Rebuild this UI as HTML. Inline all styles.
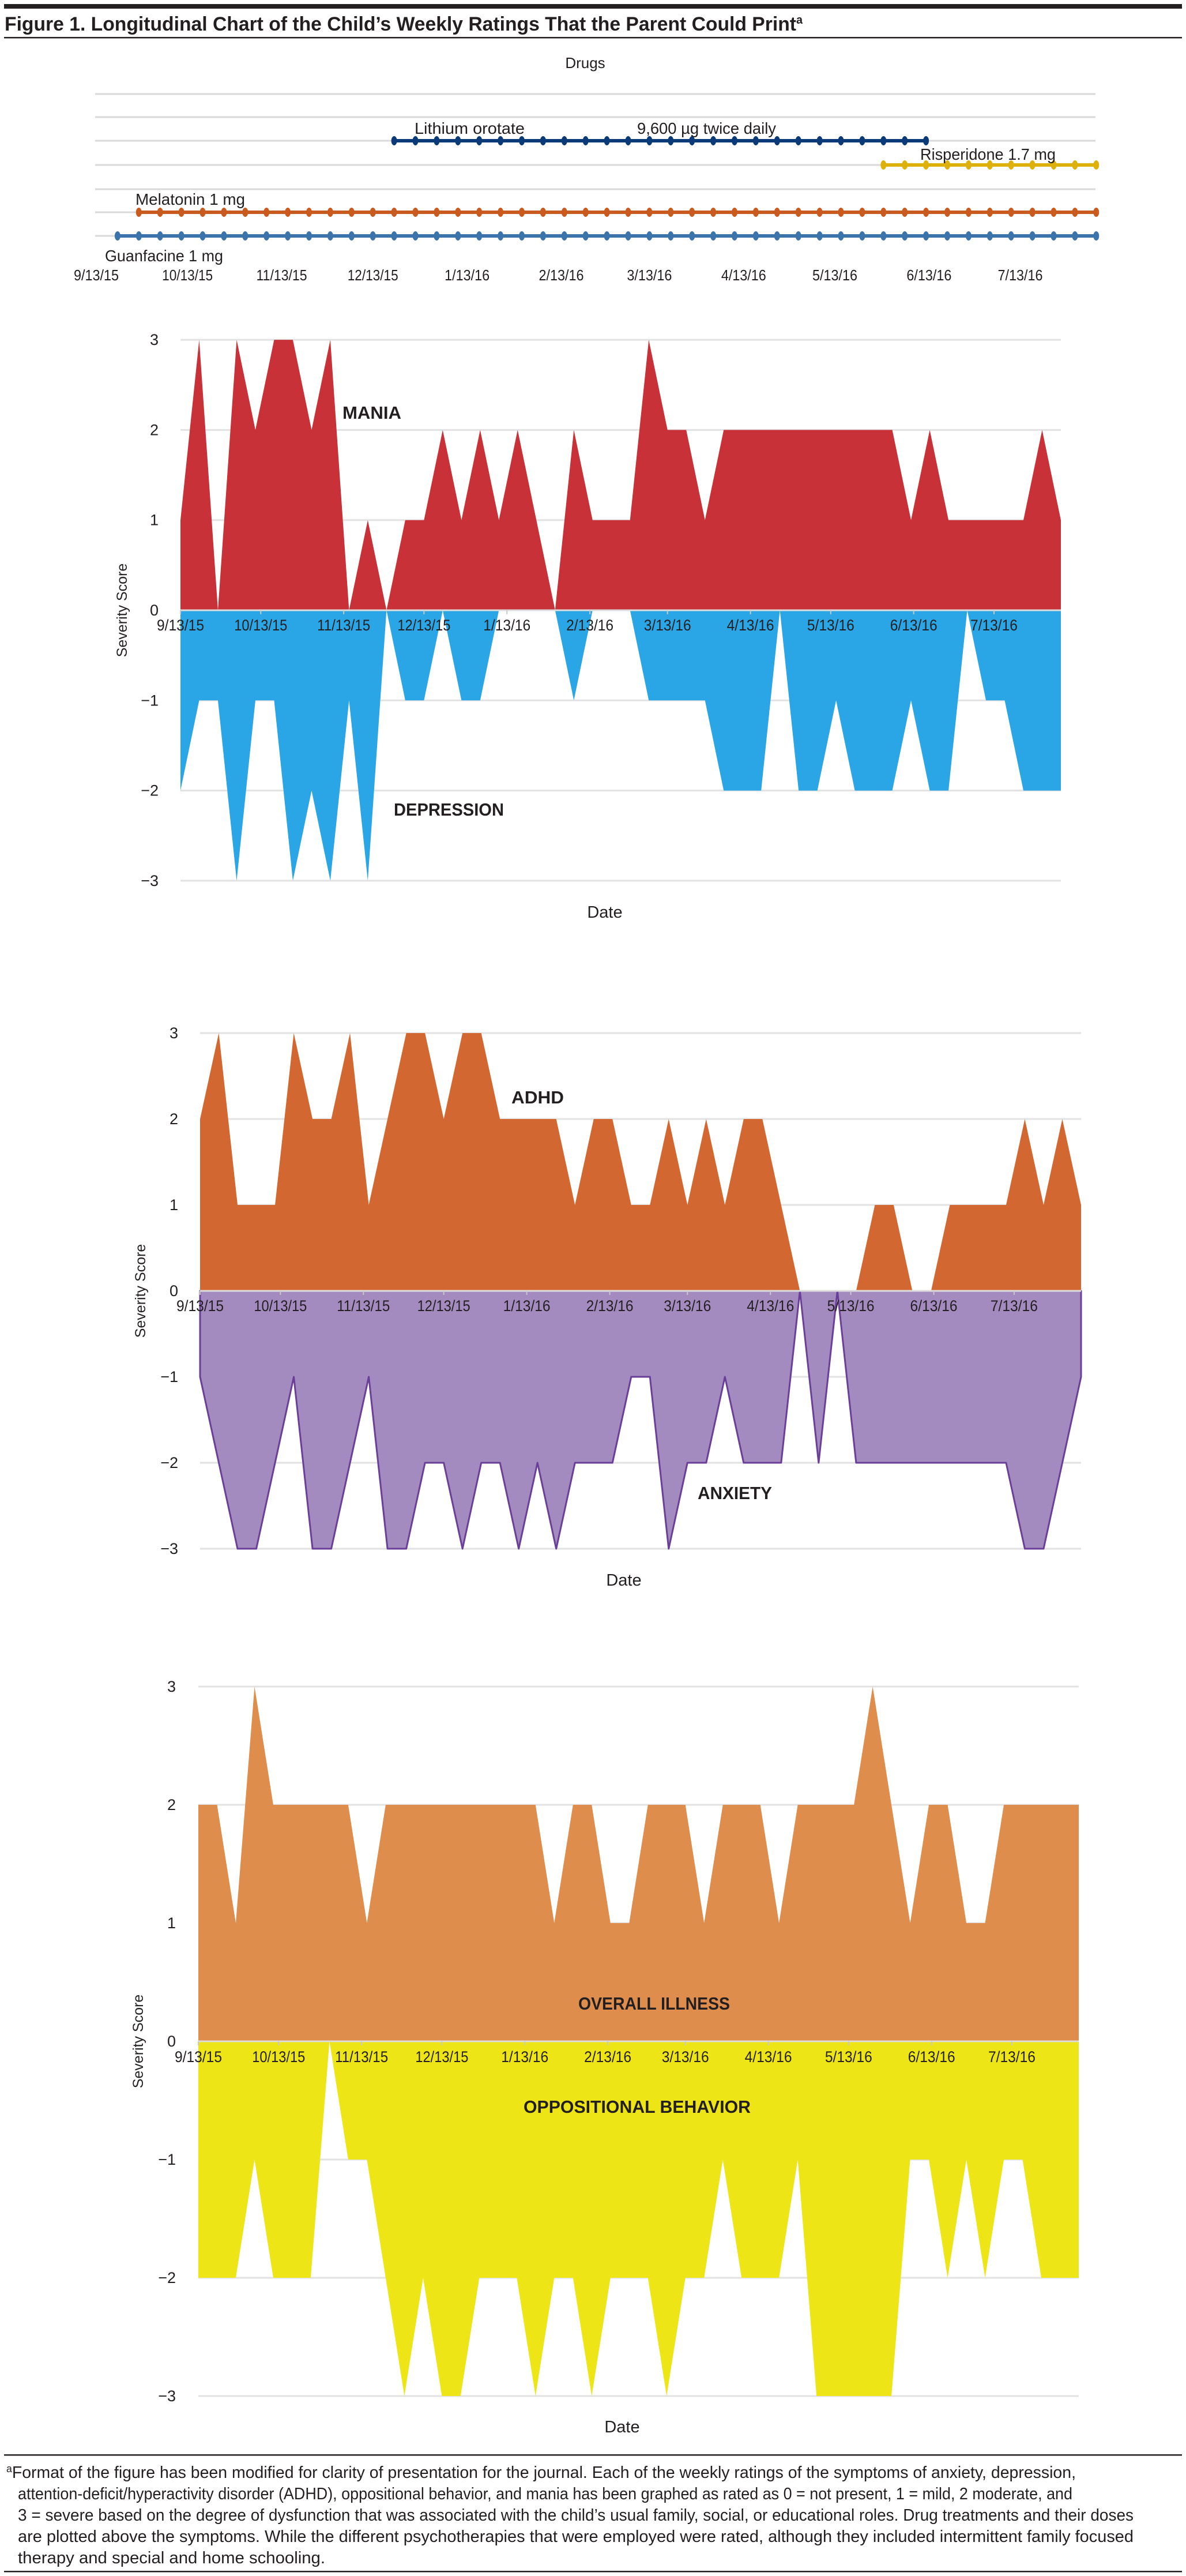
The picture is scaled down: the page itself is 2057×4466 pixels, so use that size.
<!DOCTYPE html>
<html><head><meta charset="utf-8">
<style>
html,body{margin:0;padding:0;background:#fff;}
svg{display:block;}
text{font-family:"Liberation Sans Narrow","Liberation Sans",sans-serif;fill:#231f20;}
.b{font-weight:bold;}
</style></head>
<body>
<svg id="fig" width="2057" height="4466" viewBox="0 0 2057 4466" xmlns="http://www.w3.org/2000/svg">
  <rect x="7" y="7" width="2043" height="8" fill="#231f20"/>
  <text class="b" x="8" y="53" font-size="34" textLength="1384" lengthAdjust="spacingAndGlyphs">Figure 1. Longitudinal Chart of the Child’s Weekly Ratings That the Parent Could Print<tspan font-size="20" dy="-12">a</tspan></text>
  <rect x="7" y="64" width="2043" height="2.5" fill="#231f20"/>
  <text x="1015" y="118" font-size="26" text-anchor="middle">Drugs</text>
  <g id="drugs"></g>
  <g id="c1"></g>
  <g id="c2"></g>
  <g id="c3"></g>
  <rect x="7" y="4255" width="2043" height="2.5" fill="#231f20"/>
  <g font-size="29">
    <text x="11" y="4296" textLength="1855" lengthAdjust="spacingAndGlyphs"><tspan font-size="18" dy="-10">a</tspan><tspan dy="10">Format of the figure has been modified for clarity of presentation for the journal. Each of the weekly ratings of the symptoms of anxiety, depression,</tspan></text>
    <text x="31" y="4333" textLength="1829" lengthAdjust="spacingAndGlyphs">attention-deficit/hyperactivity disorder (ADHD), oppositional behavior, and mania has been graphed as rated as 0 = not present, 1 = mild, 2 moderate, and</text>
    <text x="31" y="4370" textLength="1935" lengthAdjust="spacingAndGlyphs">3 = severe based on the degree of dysfunction that was associated with the child’s usual family, social, or educational roles. Drug treatments and their doses</text>
    <text x="31" y="4407" textLength="1935" lengthAdjust="spacingAndGlyphs">are plotted above the symptoms. While the different psychotherapies that were employed were rated, although they included intermittent family focused</text>
    <text x="31" y="4444" textLength="533" lengthAdjust="spacingAndGlyphs">therapy and special and home schooling.</text>
  </g>
  <rect x="7" y="4457" width="2043" height="2.5" fill="#231f20"/>
</svg>
<script>
const dateLabels = ["9/13/15","10/13/15","11/13/15","12/13/15","1/13/16","2/13/16","3/13/16","4/13/16","5/13/16","6/13/16","7/13/16"];
const dateDays = [0,30,61,91,122,153,182,213,243,274,304];
const yTicks = [3,2,1,0,-1,-2,-3];
const yTickLabels = ["3","2","1","0","\u22121","\u22122","\u22123"];
const drugNames = ["Lithium orotate","Risperidone 1.7 mg","Melatonin 1 mg","Guanfacine 1 mg"];
const drugStartWeek = [14,37,2,1];
const drugEndWeek = [39,47,47,47];
const drugRow = [2,3,5,6];
const mania = [1,3,0,3,2,3,3,2,3,0,1,0,1,1,2,1,2,1,2,1,0,2,1,1,1,3,2,2,1,2,2,2,2,2,2,2,2,2,2,1,2,1,1,1,1,1,2,1];
const depression = [-2,-1,-1,-3,-1,-1,-3,-2,-3,-1,-3,0,-1,-1,0,-1,-1,0,0,0,0,-1,0,0,0,-1,-1,-1,-1,-2,-2,-2,0,-2,-2,-1,-2,-2,-2,-1,-2,-2,0,-1,-1,-2,-2,-2];
const adhd = [2,3,1,1,1,3,2,2,3,1,2,3,3,2,3,3,2,2,2,2,1,2,2,1,1,2,1,2,1,2,2,1,0,0,0,0,1,1,0,0,1,1,1,1,2,1,2,1];
const anxiety = [-1,-2,-3,-3,-2,-1,-3,-3,-2,-1,-3,-3,-2,-2,-3,-2,-2,-3,-2,-3,-2,-2,-2,-1,-1,-3,-2,-2,-1,-2,-2,-2,0,-2,0,-2,-2,-2,-2,-2,-2,-2,-2,-2,-3,-3,-2,-1];
const overall = [2,2,1,3,2,2,2,2,2,1,2,2,2,2,2,2,2,2,2,1,2,2,1,1,2,2,2,1,2,2,2,1,2,2,2,2,3,2,1,2,2,1,1,2,2,2,2,2];
const oppositional = [-2,-2,-2,-1,-2,-2,-2,0,-1,-1,-2,-3,-2,-3,-3,-2,-2,-2,-3,-2,-2,-3,-2,-2,-2,-3,-2,-2,-1,-2,-2,-2,-1,-3,-3,-3,-3,-3,-1,-1,-2,-1,-2,-1,-1,-2,-2,-2];

const NS = "http://www.w3.org/2000/svg";
function mk(tag, attrs, parent){
  const e = document.createElementNS(NS, tag);
  for (const k in attrs) e.setAttribute(k, attrs[k]);
  parent.appendChild(e);
  return e;
}

// ---- Drugs chart ----
const dg = document.getElementById('drugs');
const dX0 = 167, dPerDay = 36.9/7;
const dx = d => dX0 + d*dPerDay;
const dxw = w => dX0 + w*36.9;
const dRowY = [163,203,244,286,328,368,409];
const drugColors = ["#0b3a78","#ddb10a","#c95b1f","#3a74ab"];
dRowY.forEach((y,i)=>{
  const l = mk('line',{x1:165,x2:1900,y1:y,y2:y,stroke:"#d9d9d9","stroke-width":3},dg);
  
  
});
drugNames.forEach((n,i)=>{
  const y = dRowY[drugRow[i]];
  const ln = mk('line',{x1:dxw(drugStartWeek[i]),x2:dxw(drugEndWeek[i]),y1:y,y2:y,stroke:drugColors[i],"stroke-width":6},dg);
  
  
  for(let w=drugStartWeek[i]; w<=drugEndWeek[i]; w++){
    const c = mk('ellipse',{cx:dxw(w),cy:y,rx:5,ry:8,fill:drugColors[i]},dg);
    
    
  }
});
const drugLabelSpecs = [["Lithium orotate",719,232,191],["9,600 \u00b5g twice daily",1105,232,241],["Risperidone 1.7 mg",1596,277,235],["Melatonin 1 mg",235,355,190],["Guanfacine 1 mg",182,453,205]];
drugLabelSpecs.forEach(s=>{
  const t = mk('text',{x:s[1],y:s[2],"font-size":28,textLength:s[3],lengthAdjust:"spacingAndGlyphs"},dg);
  t.textContent = s[0];
  
  
});
dateLabels.forEach((d,i)=>{
  const t = mk('text',{x:dx(dateDays[i]),y:486,"font-size":26,"text-anchor":"middle",textLength:d.length>7?88:d.length>6?78:62,lengthAdjust:"spacingAndGlyphs"},dg);
  t.textContent = d;
  
  
});

// ---- Symptom charts ----
function chart(id, cfg){
  const g = document.getElementById(id);
  const step = (cfg.x1-cfg.x0)/47;
  const xs = k => cfg.x0 + k*step;
  const xd = d => cfg.x0 + d*step/7;
  const ys = v => cfg.zero - v*cfg.unit;
  yTicks.forEach((v,i)=>{
    const l = mk('line',{x1:cfg.x0,x2:cfg.x1,y1:ys(v),y2:ys(v),stroke:"#e2e2e2","stroke-width":3},g);
    
    
    const t = mk('text',{x:cfg.tx,y:ys(v)+9,"font-size":27,"text-anchor":"end"},g);
    t.textContent = yTickLabels[i];
    
    
  });
  cfg.series.forEach(s=>{
    let pts = cfg.x0+','+ys(0)+' ';
    s.data.forEach((v,k)=>{ pts += xs(k)+','+ys(v)+' '; });
    pts += cfg.x1+','+ys(0);
    const attrs = {points:pts,fill:s.color};
    if(s.stroke){ attrs.stroke = s.stroke; attrs["stroke-width"] = 3; attrs["stroke-linejoin"]="round"; }
    const p = mk('polygon',attrs,g);
    
    
    const t = mk('text',{class:"b",x:s.lx,y:s.ly,"font-size":31,textLength:s.lw,lengthAdjust:"spacingAndGlyphs"},g);
    t.textContent = s.label;
    
    
  });
  const zl = mk('line',{x1:cfg.x0,x2:cfg.x1,y1:ys(0),y2:ys(0),stroke:"#dcdcdc","stroke-width":3},g);
  
  
  dateLabels.forEach((d,i)=>{
    const x = xd(dateDays[i]);
    const tk = mk('line',{x1:x,x2:x,y1:ys(0),y2:ys(0)+7,stroke:"#c8c8c8","stroke-width":2},g);
    
    
    const t = mk('text',{x:x,y:ys(0)+cfg.dy,"font-size":27,"text-anchor":"middle",textLength:d.length>7?92:d.length>6?82:64,lengthAdjust:"spacingAndGlyphs"},g);
    t.textContent = d;
    
    
  });
  const yl = mk('text',{x:0,y:0,"font-size":25,"text-anchor":"middle",transform:`translate(${cfg.sx},${cfg.zero}) rotate(-90)`},g);
  yl.setAttribute('style','font-family:"Liberation Sans",sans-serif');
  yl.textContent = "Severity Score";
  
  
  const xt = mk('text',{x:cfg.datex,y:cfg.datey,"font-size":29,"text-anchor":"middle"},g);
  xt.textContent = "Date";
  
  
}
chart('c1',{x0:313,x1:1840,zero:1058,unit:156.3,tx:275,dy:35,sx:220,datex:1049,datey:1591,
  series:[{name:'mania',data:mania,color:'#c73137',label:'MANIA',lx:594,ly:726,lw:102},
          {name:'depression',data:depression,color:'#2aa6e6',label:'DEPRESSION',lx:683,ly:1414,lw:191}]});
chart('c2',{x0:347,x1:1875,zero:2238,unit:149,tx:309,dy:35,sx:252,datex:1082,datey:2749,
  series:[{name:'adhd',data:adhd,color:'#d36731',label:'ADHD',lx:887,ly:1913,lw:91},
          {name:'anxiety',data:anxiety,color:'#a38bc0',stroke:'#6b3f98',label:'ANXIETY',lx:1210,ly:2599,lw:129}]});
chart('c3',{x0:344,x1:1871,zero:3539,unit:205,tx:305,dy:36,sx:248,datex:1079,datey:4217,
  series:[{name:'overall-illness',data:overall,color:'#df8d4d',label:'OVERALL ILLNESS',lx:1003,ly:3484,lw:263},
          {name:'oppositional-behavior',data:oppositional,color:'#ede515',label:'OPPOSITIONAL BEHAVIOR',lx:908,ly:3663,lw:394}]});
</script>
</body></html>
